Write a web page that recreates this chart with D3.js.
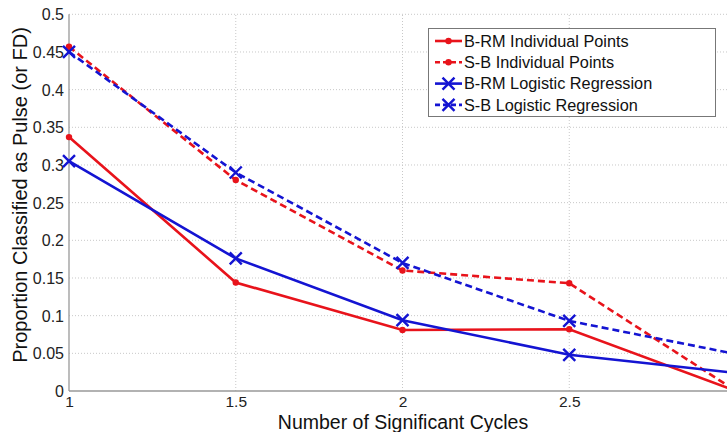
<!DOCTYPE html>
<html><head><meta charset="utf-8">
<script src="https://cdn.jsdelivr.net/npm/d3@7"></script>
<style>body{margin:0;background:#fff;overflow:hidden}svg{display:block}</style>
</head><body><svg id="c" width="727" height="432"></svg>
<script>
const cycles = [1, 1.5, 2, 2.5, 3];
const brmPoints = [0.337, 0.144, 0.081, 0.082, 0.0];
const sbPoints = [0.457, 0.280, 0.160, 0.143, 0.0];
const brmLogistic = [0.305, 0.176, 0.094, 0.048, 0.024];
const sbLogistic = [0.450, 0.290, 0.170, 0.093, 0.049];
const xTicks = [1, 1.5, 2, 2.5];
const yTicks = [0, 0.05, 0.1, 0.15, 0.2, 0.25, 0.3, 0.35, 0.4, 0.45, 0.5];
const seriesNames = ["B-RM Individual Points", "S-B Individual Points", "B-RM Logistic Regression", "S-B Logistic Regression"];

const series = [
  {name: seriesNames[0], values: brmPoints, color: "#e8131b", dash: null, marker: "dot"},
  {name: seriesNames[1], values: sbPoints, color: "#e8131b", dash: "7,4", marker: "dot"},
  {name: seriesNames[2], values: brmLogistic, color: "#1414d2", dash: null, marker: "x"},
  {name: seriesNames[3], values: sbLogistic, color: "#1414d2", dash: "7,4", marker: "x"}
];

const svg = d3.select("#c");
const x = d3.scaleLinear().domain([1, 3]).range([69, 736]);
const y = d3.scaleLinear().domain([0, 0.5]).range([391, 14.3]);
const font = "Arial, 'Liberation Sans', sans-serif";

// grid
svg.append("g").selectAll("line").data(yTicks.slice(1)).join("line")
  .attr("x1", x(1)).attr("x2", 727).attr("y1", d => y(d)).attr("y2", d => y(d))
  .attr("stroke", "#c8c8c8").attr("stroke-width", 1).attr("stroke-dasharray", "1,2");
svg.append("g").selectAll("line").data(xTicks.slice(1)).join("line")
  .attr("y1", y(0)).attr("y2", y(0.5)).attr("x1", d => x(d)).attr("x2", d => x(d))
  .attr("stroke", "#c8c8c8").attr("stroke-width", 1).attr("stroke-dasharray", "1,2");

// axes
const yAxis = d3.axisLeft(y).tickValues(yTicks).tickSize(0).tickPadding(5).tickFormat(d => d3.format("")(d));
const xAxis = d3.axisBottom(x).tickValues(xTicks).tickSize(0).tickPadding(0).tickFormat(d => d3.format("")(d));
const gy = svg.append("g").attr("transform", `translate(${x(1)},0)`).call(yAxis);
const gx = svg.append("g").attr("transform", `translate(0,${y(0)})`).call(xAxis);
[gx, gy].forEach(g => {
  g.select(".domain").remove();
  g.selectAll("text").attr("font-family", font).attr("font-size", 16).attr("fill", "#222");
});
gy.selectAll("text").attr("dy", "0.35em");
gx.selectAll("text").attr("font-size", 15.5).attr("y", 16).attr("dy", null);
svg.append("line").attr("x1", x(1)).attr("x2", x(1)).attr("y1", y(0)).attr("y2", y(0.5)).attr("stroke", "#999").attr("stroke-width", 1.3);
svg.append("line").attr("x1", x(1)).attr("x2", 727).attr("y1", y(0)).attr("y2", y(0)).attr("stroke", "#999").attr("stroke-width", 1.3);

// labels
svg.append("text").attr("x", 403).attr("y", 429).attr("text-anchor", "middle")
  .attr("font-family", font).attr("font-size", 19.5).attr("fill", "#111").text("Number of Significant Cycles");
svg.append("text").attr("transform", `translate(27,195) rotate(-90)`).attr("text-anchor", "middle")
  .attr("font-family", font).attr("font-size", 20).attr("fill", "#111").text("Proportion Classified as Pulse (or FD)");

// lines
const line = d3.line().x((d, i) => x(cycles[i])).y(d => y(d));
const plot = svg.append("g");
series.forEach(s => {
  plot.append("path").datum(s.values).attr("d", line).attr("fill", "none")
    .attr("stroke", s.color).attr("stroke-width", 2.6).attr("stroke-dasharray", s.dash);
});
function drawMarker(g, s, cx, cy) {
  if (s.marker === "dot") {
    g.append("circle").attr("cx", cx).attr("cy", cy).attr("r", 3.2).attr("fill", s.color);
  } else {
    const r = 6;
    g.append("path").attr("d", `M${cx - r},${cy - r}L${cx + r},${cy + r}M${cx - r},${cy + r}L${cx + r},${cy - r}`)
      .attr("stroke", s.color).attr("stroke-width", 2.4).attr("fill", "none");
  }
}
series.forEach(s => {
  s.values.forEach((v, i) => drawMarker(plot, s, x(cycles[i]), y(v)));
});

// legend
const lg = svg.append("g");
lg.append("rect").attr("x", 428.5).attr("y", 28.5).attr("width", 287).attr("height", 88)
  .attr("fill", "#fff").attr("stroke", "#777").attr("stroke-width", 1);
series.forEach((s, i) => {
  const ly = 41 + i * 21.3;
  lg.append("line").attr("x1", 435).attr("x2", 462).attr("y1", ly).attr("y2", ly)
    .attr("stroke", s.color).attr("stroke-width", 2.6).attr("stroke-dasharray", s.dash ? "5,3" : null);
  drawMarker(lg, s, 448.5, ly);
  lg.append("text").attr("x", 464).attr("y", ly).attr("dy", "0.35em")
    .attr("font-family", font).attr("font-size", 16.3).attr("fill", "#111").text(s.name);
});
</script></body></html>
